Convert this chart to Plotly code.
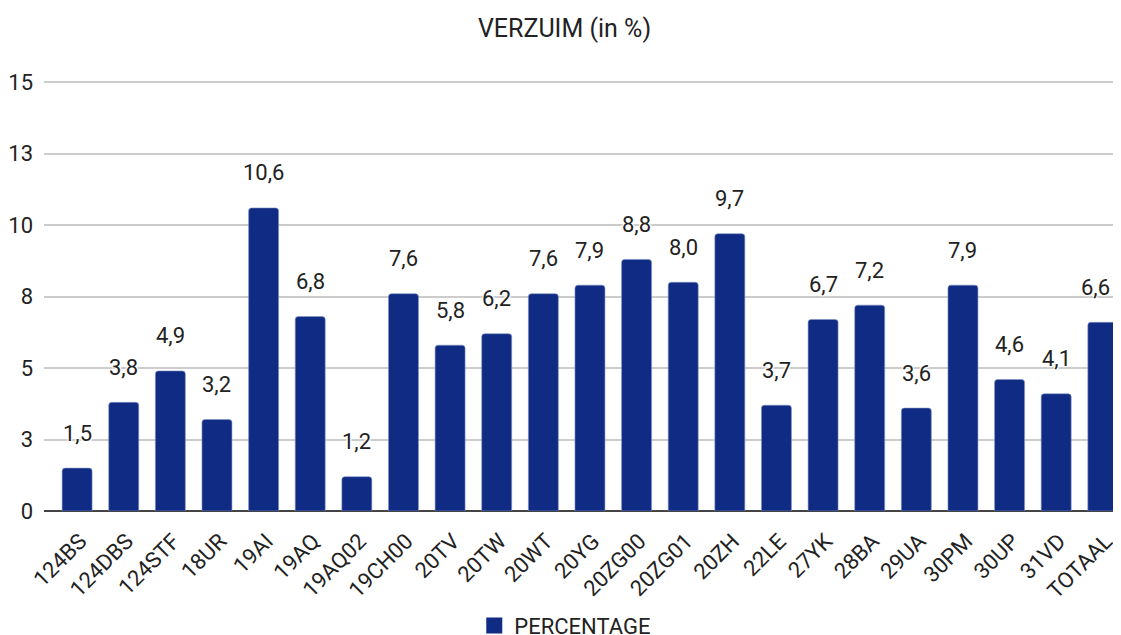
import plotly.graph_objects as go

categories = ["124BS", "124DBS", "124STF", "18UR", "19AI", "19AQ", "19AQ02", "19CH00",
              "20TV", "20TW", "20WT", "20YG", "20ZG00", "20ZG01", "20ZH", "22LE",
              "27YK", "28BA", "29UA", "30PM", "30UP", "31VD", "TOTAAL"]
percentage = [1.5, 3.8, 4.9, 3.2, 10.6, 6.8, 1.2, 7.6,
              5.8, 6.2, 7.6, 7.9, 8.8, 8.0, 9.7, 3.7,
              6.7, 7.2, 3.6, 7.9, 4.6, 4.1, 6.6]
y_tickvals = [0, 2.5, 5, 7.5, 10, 12.5, 15]
y_ticktext = ["0", "3", "5", "8", "10", "13", "15"]

labels = [f"{v:.1f}".replace(".", ",") for v in percentage]

FONT = "Roboto"
BAR = "#0f2b84"
TXT = "#222222"
HALO = "1px 1px 1px #fff, -1px -1px 1px #fff, 1px -1px 1px #fff, -1px 1px 1px #fff, 0 0 3px #fff"

W, H = 1113, 627  # page body has an 8px margin

fig = go.Figure()
fig.add_trace(go.Bar(
    x=categories, y=percentage, name="PERCENTAGE", showlegend=False,
    marker=dict(color=BAR, cornerradius=3, line=dict(color="#8393c4", width=0.6)),
    hoverinfo="skip",
))
# legend entry
fig.add_trace(go.Scatter(
    x=[None], y=[None], mode="markers", name="PERCENTAGE",
    marker=dict(symbol="square", size=22, color=BAR), hoverinfo="skip",
))

n = len(categories)
for i, (c, v, t) in enumerate(zip(categories, percentage, labels)):
    last = i == n - 1
    fig.add_annotation(
        x=c, y=v, text=t, showarrow=False,
        xanchor="right" if last else "center", yanchor="middle",
        xshift=9 if last else 0, yshift=35,
        font=dict(family=FONT, size=22, color=TXT, shadow=HALO),
    )

fig.update_layout(
    width=W, height=H,
    margin=dict(l=36, r=0, t=73, b=124, autoexpand=False),
    paper_bgcolor="white", plot_bgcolor="white",
    font=dict(family=FONT, size=22, color=TXT),
    title=dict(text="VERZUIM (in %)", x=0.5, xanchor="center", xref="container",
               y=1 - 20 / H, yanchor="middle",
               font=dict(family=FONT, size=25, color=TXT)),
    bargap=0.357,
    showlegend=True,
    legend=dict(orientation="h", x=0.484, xanchor="center", y=-0.267, yanchor="middle",
                font=dict(family=FONT, size=22, color=TXT), itemwidth=30,
                bgcolor="rgba(0,0,0,0)"),
    xaxis=dict(range=[-0.71, 22.39], tickangle=-45, showgrid=False, showline=False,
               ticks="", automargin=False, ticklabelstandoff=12, ticklabelshift=3,
               tickfont=dict(family=FONT, size=22, color=TXT)),
    yaxis=dict(range=[0, 15.04], tickvals=y_tickvals, ticktext=y_ticktext,
               showgrid=True, gridcolor="#cccccc", gridwidth=1.5,
               zeroline=True, zerolinecolor="#444444", zerolinewidth=2,
               showline=False, ticks="", automargin=False, ticklabelstandoff=10,
               tickfont=dict(family=FONT, size=22, color=TXT)),
)

fig.write_html("out.html")
